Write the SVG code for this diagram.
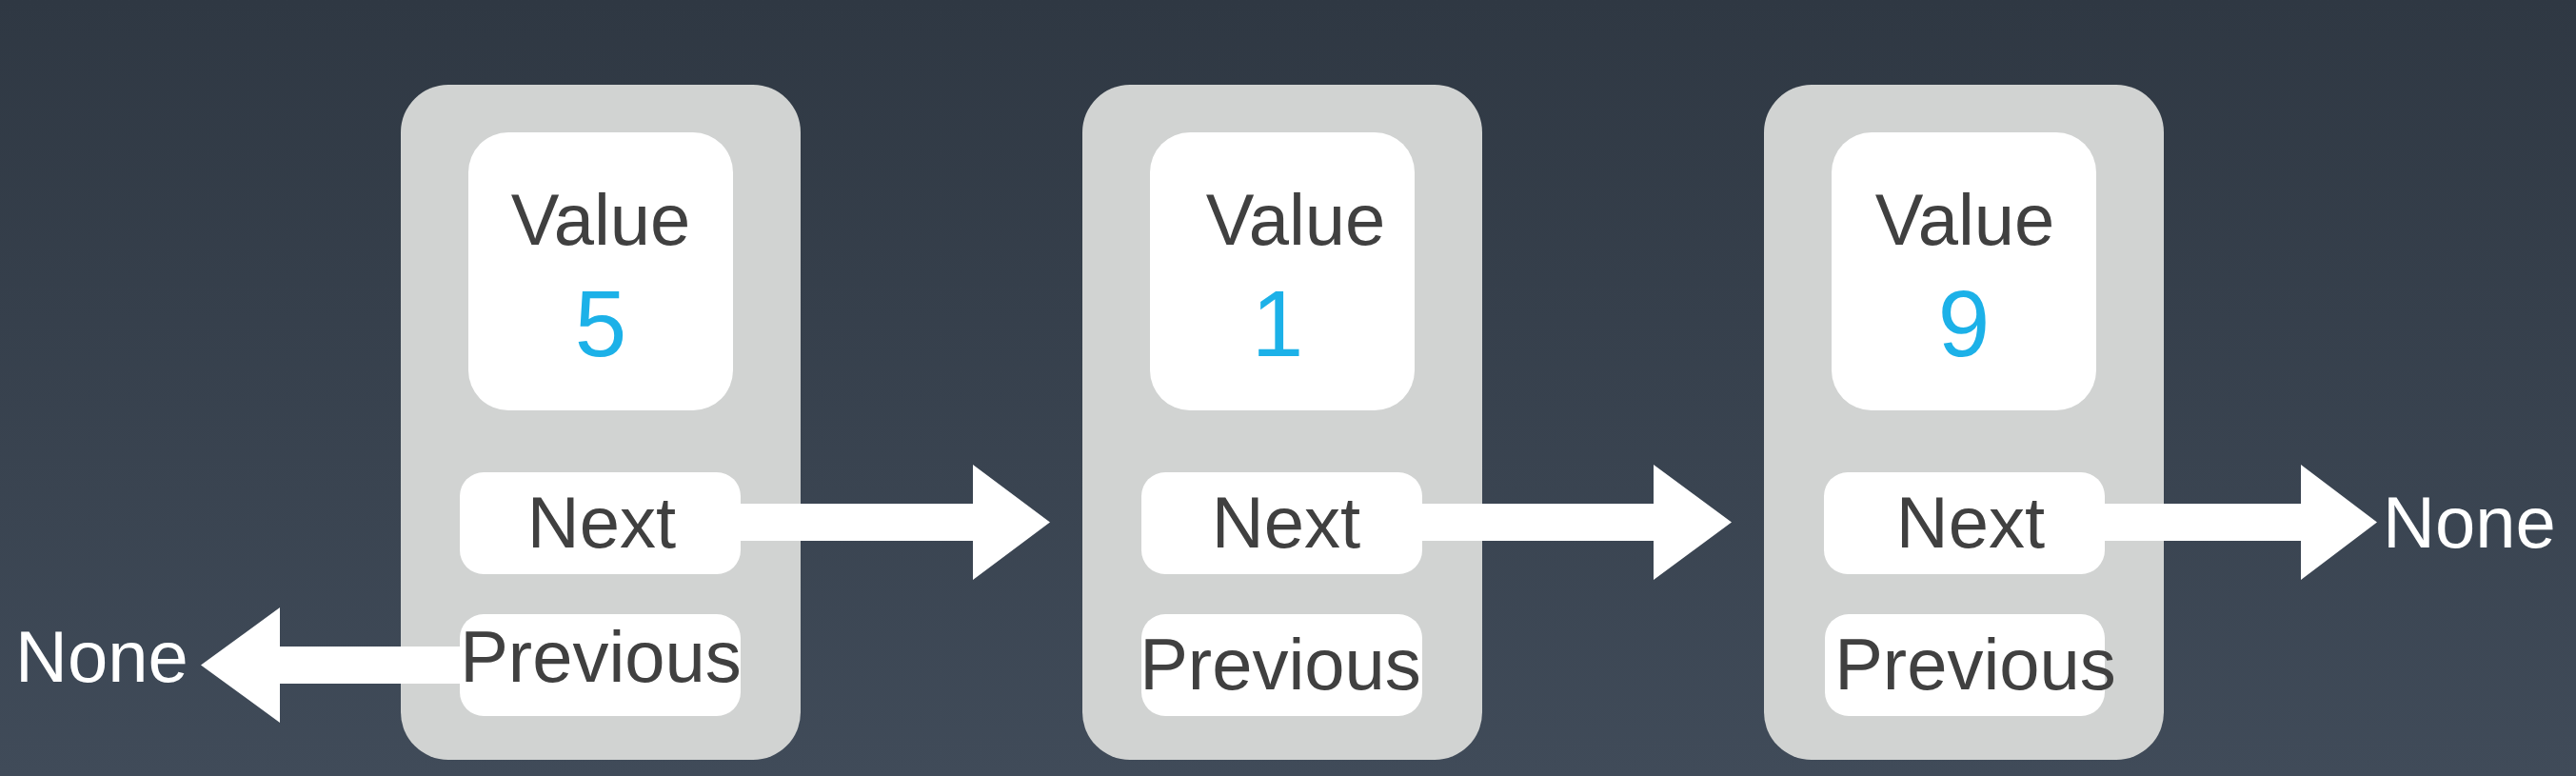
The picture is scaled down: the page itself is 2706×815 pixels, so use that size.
<svg xmlns="http://www.w3.org/2000/svg" width="2706" height="815" viewBox="0 0 2706 815">
<defs>
<linearGradient id="bg" x1="0" y1="0" x2="0" y2="1">
<stop offset="0" stop-color="#2f3843"/>
<stop offset="1" stop-color="#404b59"/>
</linearGradient>
</defs>
<style>
.outer{fill:#d1d3d2}
.box{fill:#ffffff}
.lbl{font-family:"Liberation Sans",Arial,sans-serif;font-size:76px;fill:#404040;text-anchor:middle}
.num{font-family:"Liberation Sans",Arial,sans-serif;font-size:98px;fill:#1cb1e8;text-anchor:middle}
.none{font-family:"Liberation Sans",Arial,sans-serif;font-size:76px;fill:#ffffff}
.arrow{fill:#ffffff}
</style>
<rect width="2706" height="815" fill="url(#bg)"/>

<g id="node1">
<rect class="outer" x="421" y="89" width="420" height="709" rx="50" ry="50"/>
<rect class="box" x="492" y="139" width="278" height="292" rx="42" ry="42"/>
<text class="lbl" x="631" y="257">Value</text>
<text class="num" x="631" y="374">5</text>
</g>
<g id="node2">
<rect class="outer" x="1137" y="89" width="420" height="709" rx="50" ry="50"/>
<rect class="box" x="1208" y="139" width="278" height="292" rx="42" ry="42"/>
<text class="lbl" x="1361" y="257">Value</text>
<text class="num" x="1342" y="374">1</text>
</g>
<g id="node3">
<rect class="outer" x="1853" y="89" width="420" height="709" rx="50" ry="50"/>
<rect class="box" x="1924" y="139" width="278" height="292" rx="42" ry="42"/>
<text class="lbl" x="2064" y="257">Value</text>
<text class="num" x="2063" y="374">9</text>
</g>

<g id="connectors">
<polygon class="arrow" points="778,529 1022,529 1022,488 1103,548.5 1022,609 1022,568 778,568"/>
<polygon class="arrow" points="1494,529 1737,529 1737,488 1819,548.5 1737,609 1737,568 1494,568"/>
<polygon class="arrow" points="2210,529 2417,529 2417,488 2497,548.5 2417,609 2417,568 2210,568"/>
<polygon class="arrow" points="483,679 294,679 294,638 211,698.5 294,759 294,718 483,718"/>
</g>

<g id="next1">
<rect class="box" x="483" y="496" width="295" height="107" rx="25" ry="25"/>
<text class="lbl" x="632" y="575">Next</text>
</g>
<g id="prev1">
<rect class="box" x="483" y="645" width="295" height="107" rx="25" ry="25"/>
<text class="lbl" x="631" y="716">Previous</text>
</g>
<g id="next2">
<rect class="box" x="1199" y="496" width="295" height="107" rx="25" ry="25"/>
<text class="lbl" x="1351" y="575">Next</text>
</g>
<g id="prev2">
<rect class="box" x="1199" y="645" width="295" height="107" rx="25" ry="25"/>
<text class="lbl" x="1345" y="724">Previous</text>
</g>
<g id="next3">
<rect class="box" x="1916" y="496" width="295" height="107" rx="25" ry="25"/>
<text class="lbl" x="2070" y="575">Next</text>
</g>
<g id="prev3">
<rect class="box" x="1917" y="645" width="294" height="107" rx="25" ry="25"/>
<text class="lbl" x="2075" y="724">Previous</text>
</g>

<g id="none-left">
<text class="none" x="16" y="716">None</text>
</g>
<g id="none-right">
<text class="none" x="2503" y="575">None</text>
</g>
</svg>
